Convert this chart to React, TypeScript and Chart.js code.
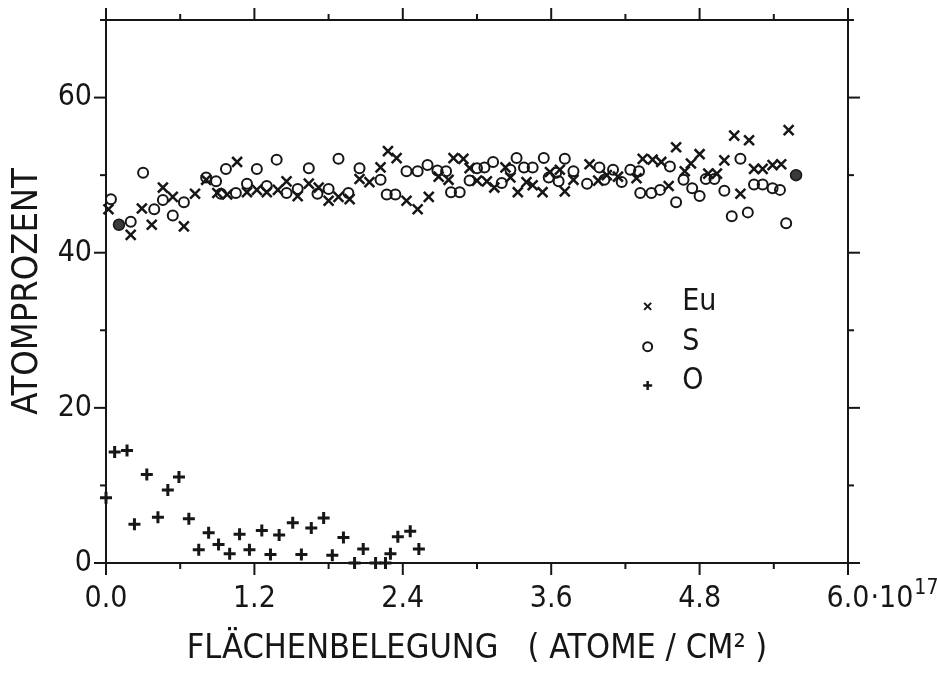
import React, { useEffect, useRef } from 'react';
import { Chart, registerables } from 'chart.js';

Chart.register(...registerables);

// Surface coverage in units of 10^17 atoms/cm^2
const euX = [0.02, 0.2, 0.29, 0.37, 0.46, 0.54, 0.63, 0.72, 0.81, 0.9, 0.98, 1.06, 1.14, 1.22, 1.3, 1.39, 1.46, 1.55, 1.64, 1.72, 1.8, 1.88, 1.97, 2.05, 2.13, 2.22, 2.28, 2.35, 2.43, 2.52, 2.61, 2.69, 2.77, 2.81, 2.89, 2.94, 3.0, 3.08, 3.14, 3.23, 3.27, 3.33, 3.4, 3.45, 3.53, 3.59, 3.67, 3.71, 3.78, 3.91, 3.98, 4.05, 4.14, 4.29, 4.34, 4.42, 4.49, 4.55, 4.61, 4.68, 4.73, 4.8, 4.87, 4.94, 5.0, 5.08, 5.13, 5.2, 5.24, 5.31, 5.39, 5.46, 5.52];
const euY = [45.6, 42.3, 45.7, 43.6, 48.4, 47.2, 43.4, 47.6, 49.4, 47.7, 47.5, 51.7, 47.8, 48.1, 47.8, 48.1, 49.2, 47.3, 48.9, 48.4, 46.7, 47.2, 46.9, 49.5, 49.1, 51.0, 53.1, 52.2, 46.7, 45.6, 47.2, 49.8, 49.4, 52.2, 52.1, 50.9, 49.3, 49.2, 48.4, 51.0, 49.7, 47.8, 49.1, 48.7, 47.8, 50.4, 50.7, 47.9, 49.4, 51.4, 49.3, 50.0, 49.8, 49.6, 52.1, 52.0, 51.7, 48.6, 53.6, 50.5, 51.5, 52.7, 50.2, 50.2, 51.9, 55.1, 47.6, 54.5, 50.8, 50.8, 51.3, 51.4, 55.8];

const sX = [0.04, 0.2, 0.3, 0.39, 0.46, 0.54, 0.63, 0.81, 0.89, 0.93, 0.97, 1.05, 1.14, 1.22, 1.3, 1.38, 1.46, 1.55, 1.64, 1.71, 1.8, 1.88, 1.96, 2.05, 2.22, 2.27, 2.34, 2.43, 2.52, 2.6, 2.68, 2.75, 2.79, 2.86, 2.94, 3.0, 3.06, 3.13, 3.2, 3.27, 3.32, 3.38, 3.45, 3.54, 3.58, 3.64, 3.66, 3.71, 3.78, 3.89, 3.99, 4.03, 4.1, 4.17, 4.24, 4.31, 4.32, 4.41, 4.48, 4.56, 4.61, 4.67, 4.74, 4.8, 4.85, 4.92, 5.0, 5.06, 5.13, 5.19, 5.24, 5.31, 5.39, 5.45, 5.5];
const sY = [46.9, 44.0, 50.3, 45.6, 46.8, 44.8, 46.5, 49.7, 49.2, 47.6, 50.8, 47.7, 48.9, 50.8, 48.6, 52.0, 47.7, 48.2, 50.9, 47.6, 48.2, 52.1, 47.7, 50.9, 49.4, 47.5, 47.5, 50.5, 50.5, 51.3, 50.6, 50.5, 47.8, 47.8, 49.3, 50.9, 51.0, 51.7, 49.0, 50.7, 52.2, 51.0, 51.0, 52.2, 49.7, 50.3, 49.2, 52.1, 50.5, 48.9, 51.0, 49.4, 50.7, 49.1, 50.7, 50.5, 47.7, 47.7, 48.1, 51.1, 46.5, 49.4, 48.3, 47.3, 49.5, 49.5, 48.0, 44.7, 52.1, 45.2, 48.8, 48.8, 48.3, 48.1, 43.8];

// S points where Eu and S coincide (drawn as solid dots)
const sSolidX = [0.105, 5.58];
const sSolidY = [43.6, 50.0];

const oX = [0.0, 0.07, 0.17, 0.23, 0.33, 0.42, 0.5, 0.59, 0.67, 0.75, 0.83, 0.91, 1.0, 1.08, 1.16, 1.26, 1.33, 1.4, 1.51, 1.58, 1.66, 1.76, 1.83, 1.92, 2.01, 2.08, 2.18, 2.26, 2.3, 2.36, 2.46, 2.53];
const oY = [8.4, 14.3, 14.5, 5.0, 11.4, 5.9, 9.4, 11.1, 5.7, 1.7, 3.9, 2.4, 1.2, 3.7, 1.7, 4.2, 1.1, 3.6, 5.2, 1.1, 4.5, 5.8, 1.0, 3.3, 0.0, 1.8, 0.0, 0.0, 1.2, 3.4, 4.1, 1.8];

const xTickLabels = ['0.0', '1.2', '2.4', '3.6', '4.8', '6.0'];
const yTickLabels = ['0', '20', '40', '60'];
const seriesNames = ['Eu', 'S', 'O'];

const FONT = '"DejaVu Sans Condensed", "Liberation Sans Narrow", "DejaVu Sans", sans-serif';
const INK = '#161616';

const toPoints = (xs: number[], ys: number[]) => xs.map((x, i) => ({ x, y: ys[i] }));

function line(ctx: CanvasRenderingContext2D, x1: number, y1: number, x2: number, y2: number) {
  ctx.beginPath();
  ctx.moveTo(x1, y1);
  ctx.lineTo(x2, y2);
  ctx.stroke();
}

// Boxed frame with outward major/minor ticks on all four sides
const framePlugin = {
  id: 'frameTicks',
  afterDatasetsDraw(chart: any) {
    const { ctx, chartArea: a, scales } = chart;
    const xs = scales.x;
    const ys = scales.y;
    ctx.save();
    ctx.strokeStyle = INK;
    ctx.lineWidth = 2;
    ctx.strokeRect(a.left, a.top, a.right - a.left, a.bottom - a.top);
    const major = 12;
    const minor = 6;
    for (let i = 0; i <= 10; i++) {
      const px = xs.getPixelForValue(i * 0.6);
      const len = i % 2 === 0 ? major : minor;
      line(ctx, px, a.bottom, px, a.bottom + len);
      line(ctx, px, a.top, px, a.top - len);
    }
    for (let i = 0; i <= 7; i++) {
      const py = ys.getPixelForValue(i * 10);
      const len = i % 2 === 0 ? major : minor;
      line(ctx, a.left, py, a.left - len, py);
      line(ctx, a.right, py, a.right + len, py);
    }

    // exponent after the last x tick label
    ctx.fillStyle = INK;
    ctx.textBaseline = 'alphabetic';
    ctx.textAlign = 'left';
    ctx.font = `30px ${FONT}`;
    const lastW = ctx.measureText(xTickLabels[xTickLabels.length - 1]).width;
    const ex = xs.getPixelForValue(6) + lastW / 2 + 1;
    const baseY = a.bottom + 44;
    ctx.fillText('·10', ex, baseY);
    const w10 = ctx.measureText('·10').width;
    ctx.font = `21px ${FONT}`;
    ctx.fillText('17', ex + w10 + 1, baseY - 13);
    ctx.restore();
  },
};

// Symbol key inside the plot area
const keyPlugin = {
  id: 'symbolKey',
  afterDatasetsDraw(chart: any, _args: any, opts: any) {
    const { ctx, scales } = chart;
    const mx = scales.x.getPixelForValue(opts.markerX);
    const tx = scales.x.getPixelForValue(opts.textX);
    ctx.save();
    ctx.strokeStyle = INK;
    ctx.fillStyle = INK;
    ctx.font = `30px ${FONT}`;
    ctx.textBaseline = 'middle';
    ctx.textAlign = 'left';
    seriesNames.forEach((name, i) => {
      const cy = scales.y.getPixelForValue(opts.rows[i]);
      const my = cy + 4;
      if (i === 0) {
        ctx.lineWidth = 2;
        line(ctx, mx - 3.5, my - 3.5, mx + 3.5, my + 3.5);
        line(ctx, mx - 3.5, my + 3.5, mx + 3.5, my - 3.5);
      } else if (i === 1) {
        ctx.lineWidth = 2;
        ctx.beginPath();
        ctx.arc(mx, my, 4.5, 0, Math.PI * 2);
        ctx.stroke();
      } else {
        ctx.lineWidth = 2.5;
        line(ctx, mx - 4.5, my, mx + 4.5, my);
        line(ctx, mx, my - 4.5, mx, my + 4.5);
      }
      ctx.fillText(name, tx, cy);
    });
    ctx.restore();
  },
};

export default function App() {
  const canvasRef = useRef<HTMLCanvasElement | null>(null);

  useEffect(() => {
    const canvas = canvasRef.current;
    if (!canvas) return;
    const chart = new Chart(canvas, {
      type: 'scatter',
      data: {
        datasets: [
          {
            label: seriesNames[0],
            data: toPoints(euX, euY),
            pointStyle: 'crossRot',
            pointRadius: 7,
            pointBorderWidth: 2.5,
            pointBorderColor: INK,
            pointBackgroundColor: INK,
            clip: false,
          },
          {
            label: seriesNames[1],
            data: toPoints(sX, sY),
            pointStyle: 'circle',
            pointRadius: 5,
            pointBorderWidth: 2,
            pointBorderColor: INK,
            pointBackgroundColor: 'rgba(0,0,0,0)',
            clip: false,
          },
          {
            label: seriesNames[1],
            data: toPoints(sSolidX, sSolidY),
            pointStyle: 'circle',
            pointRadius: 5.5,
            pointBorderWidth: 1.5,
            pointBorderColor: INK,
            pointBackgroundColor: '#3a3a3a',
            clip: false,
          },
          {
            label: seriesNames[2],
            data: toPoints(oX, oY),
            pointStyle: 'cross',
            pointRadius: 6,
            pointBorderWidth: 3,
            pointBorderColor: INK,
            pointBackgroundColor: INK,
            clip: false,
          },
        ],
      },
      options: {
        responsive: false,
        animation: false,
        devicePixelRatio: 1,
        layout: { padding: { left: 0, right: 89, top: 20, bottom: 0 } },
        plugins: {
          legend: { display: false },
          tooltip: { enabled: false },
          symbolKey: { markerX: 4.38, textX: 4.66, rows: [33.6, 28.4, 23.4] },
        } as any,
        scales: {
          x: {
            type: 'linear',
            min: 0,
            max: 6,
            border: { display: false },
            grid: { display: true, drawOnChartArea: false, drawTicks: true, tickLength: 12, color: 'rgba(0,0,0,0)' },
            ticks: {
              stepSize: 0.6,
              autoSkip: false,
              maxRotation: 0,
              padding: 6,
              color: INK,
              font: { family: FONT, size: 30 },
              callback: (_v: any, i: number) => (i % 2 === 0 ? xTickLabels[i / 2] : ''),
            },
            title: {
              display: true,
              text: 'FLÄCHENBELEGUNG   ( ATOME / CM² )',
              color: INK,
              font: { family: FONT, size: 34 },
              padding: { top: 0, bottom: 10 },
            },
            afterFit: (scale: any) => {
              scale.height = 117;
            },
          },
          y: {
            type: 'linear',
            min: 0,
            max: 70,
            border: { display: false },
            grid: { display: true, drawOnChartArea: false, drawTicks: true, tickLength: 12, color: 'rgba(0,0,0,0)' },
            ticks: {
              stepSize: 10,
              autoSkip: false,
              padding: 2,
              color: INK,
              font: { family: FONT, size: 30 },
              callback: (_v: any, i: number) => (i % 2 === 0 ? yTickLabels[i / 2] ?? '' : ''),
            },
            title: {
              display: true,
              text: 'ATOMPROZENT',
              color: INK,
              font: { family: FONT, size: 36 },
              padding: { top: 6, bottom: 0 },
            },
            afterFit: (scale: any) => {
              scale.width = 106;
            },
          },
        },
      } as any,
      plugins: [framePlugin, keyPlugin],
    });
    return () => chart.destroy();
  }, []);

  return (
    <div style={{ position: 'absolute', left: 0, top: 0, width: 937, height: 680, background: '#fff' }}>
      <canvas ref={canvasRef} width={937} height={680} />
    </div>
  );
}
